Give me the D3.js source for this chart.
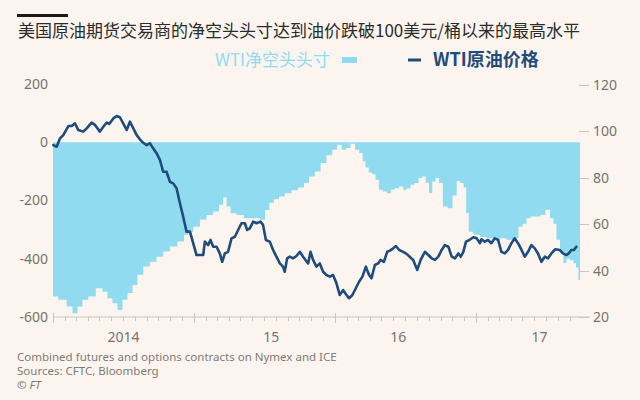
<!DOCTYPE html>
<html><head><meta charset="utf-8">
<script src="https://cdn.jsdelivr.net/npm/d3@7"></script>
<style>html,body{margin:0;padding:0;background:#fcf5ef;} svg{display:block}</style>
</head><body><svg id="c" width="640" height="400"></svg>
<script>
// ---------- data ----------
const titleText = "美国原油期货交易商的净空头头寸达到油价跌破100美元/桶以来的最高水平";
const legendLabels = ["WTI净空头头寸", "WTI原油价格"];
const leftTicks = [200, 0, -200, -400, -600];
const rightTicks = [20, 40, 60, 80, 100, 120];
const yearLabels = ["2014", "15", "16", "17"];
const yearLabelDates = [2014.50, 2015.55, 2016.45, 2017.45];
const footnotes = ["Combined futures and options contracts on Nymex and ICE", "Sources: CFTC, Bloomberg", "© FT"];

// WTI price ($/barrel), dates as decimal years
const priceYears = [2014.002,2014.026,2014.050,2014.073,2014.109,2014.133,2014.156,2014.179,2014.215,2014.239,2014.274,2014.298,2014.333,2014.357,2014.381,2014.399,2014.428,2014.452,2014.475,2014.504,2014.523,2014.546,2014.570,2014.594,2014.617,2014.640,2014.665,2014.688,2014.711,2014.735,2014.759,2014.782,2014.806,2014.830,2014.853,2014.877,2014.901,2014.924,2014.948,2014.972,2014.995,
2015.019,2015.043,2015.066,2015.078,2015.101,2015.118,2015.137,2015.161,2015.184,2015.201,2015.220,2015.243,2015.267,2015.291,2015.314,2015.338,2015.362,2015.378,2015.397,2015.421,2015.445,2015.473,2015.491,2015.511,2015.539,2015.562,2015.586,2015.610,2015.633,2015.645,2015.662,2015.681,2015.704,2015.728,2015.752,2015.775,2015.811,2015.828,2015.846,2015.870,2015.894,2015.917,2015.941,2015.965,2015.988,
2016.012,2016.035,2016.059,2016.083,2016.101,2016.125,2016.149,2016.172,2016.196,2016.220,2016.243,2016.260,2016.284,2016.307,2016.324,2016.348,2016.371,2016.390,2016.414,2016.433,2016.456,2016.484,2016.508,2016.532,2016.555,2016.584,2016.608,2016.638,2016.662,2016.686,2016.709,2016.733,2016.757,2016.780,2016.804,2016.828,2016.851,2016.875,2016.892,2016.910,2016.929,2016.953,2016.981,
2017.005,2017.028,2017.038,2017.062,2017.085,2017.109,2017.133,2017.157,2017.180,2017.204,2017.227,2017.251,2017.275,2017.298,2017.322,2017.346,2017.369,2017.393,2017.417,2017.440,2017.464,2017.488,2017.511,2017.535,2017.563,2017.594,2017.617,2017.641,2017.658,2017.676,2017.695,2017.712];
const priceValues = [94.1,93.4,97,98.4,102.3,102.3,103.5,100.6,99.9,101.3,103.8,102.8,99.9,102,103.8,103.2,105.6,106.6,106.1,102.8,100.6,104.2,101.3,98.4,96.6,95.1,94.1,94.9,92.7,90.6,87.7,82.6,82.6,78.3,77.6,75.5,69,63.2,56.8,56.8,51.8,
46.7,46.7,46.7,52.5,51,53.2,50.3,50.3,47.4,43.8,47.4,48.1,53.9,54.6,57.5,60.4,60.4,57.5,58.2,61.1,60.4,61.1,59.7,53.2,52.5,48.9,46,43.1,41.7,39.5,45.3,46,45.3,46.3,48.1,46,43.1,48.1,44.6,41.7,43.1,39.5,38.1,37.4,38.1,
34.5,29.5,31.6,29.5,28.1,29.5,32.4,35.2,37.4,41.7,38.1,36.7,42.4,43.1,44.6,43.8,48.1,48.6,49.6,50.6,48.9,48.1,47.2,45.9,44.6,40.3,44.6,48.1,46.7,45.3,44.6,46,48.9,51,50.3,46,45.3,47.4,46,48.1,52.5,53.2,54.4,
53.9,51.8,53.5,52.5,53.2,51.8,53.9,53.2,48.1,47.4,48.9,51.8,53.9,51.8,49,46,48.1,51,49.6,47.4,43.8,46,45.3,47.4,49.2,48.9,47.4,46.7,47.4,48.9,48.9,50.3];

// WTI net short position (thousand contracts), dates as decimal years
const shortYears = [2014.000,2014.073,2014.121,2014.156,2014.191,2014.227,2014.274,2014.333,2014.369,2014.404,2014.440,2014.475,2014.511,2014.546,2014.582,2014.617,2014.665,2014.711,2014.759,2014.806,2014.853,2014.913,2014.948,2014.972,
2015.019,2015.066,2015.113,2015.161,2015.196,2015.220,2015.243,2015.279,2015.326,2015.385,2015.445,2015.491,2015.520,2015.551,2015.586,2015.622,2015.669,2015.716,2015.764,2015.799,2015.835,2015.882,2015.917,2015.965,
2016.000,2016.035,2016.064,2016.094,2016.130,2016.158,2016.189,2016.206,2016.229,2016.253,2016.277,2016.300,2016.324,2016.355,2016.385,2016.409,2016.438,2016.473,2016.496,2016.525,2016.548,2016.579,2016.608,2016.631,2016.655,2016.679,2016.702,2016.726,2016.750,2016.780,2016.816,2016.851,2016.875,2016.903,2016.922,2016.939,2016.957,
2017.005,2017.050,2017.099,2017.149,2017.191,2017.241,2017.291,2017.312,2017.348,2017.369,2017.404,2017.440,2017.475,2017.511,2017.539,2017.560,2017.582,2017.610,2017.631,2017.652,2017.681,2017.702,2017.716,2017.738];
const shortValues = [-530,-541,-564,-587,-564,-541,-530,-501,-513,-536,-553,-576,-541,-518,-490,-455,-427,-410,-393,-375,-358,-341,-318,-307,
-290,-265,-250,-238,-215,-190,-221,-244,-250,-261,-261,-266,-233,-208,-196,-186,-175,-165,-155,-140,-118,-100,-71,-45,
-26,-9,-26,-20,-5,-26,-37,-66,-87,-104,-110,-129,-163,-169,-175,-163,-158,-152,-163,-158,-146,-140,-123,-118,-140,-174,-135,-123,-140,-221,-227,-183,-134,-140,-155,-243,-307,
-318,-325,-330,-335,-330,-335,-330,-290,-280,-261,-255,-255,-250,-232,-261,-280,-335,-381,-415,-400,-405,-415,-430,-473];

(function () {
function dec(t) {
  const y = Math.floor(t), s = new Date(y, 0, 1), e = new Date(y + 1, 0, 1);
  return new Date(+s + (t - y) * (e - s));
}
const price = priceYears.map((t, i) => ({date: dec(t), v: priceValues[i]}));
const shorts = shortYears.map((t, i) => ({date: dec(t), v: shortValues[i]}));

const svg = d3.select("#c");
const W = 640, H = 400;
const pL = 53, pR = 580, pT = 84, pB = 317;

const x = d3.scaleTime().domain([dec(2014), dec(2017.738)]).range([pL, pR]);
const yL = d3.scaleLinear().domain([-600, 200]).range([pB, pT]);
const yR = d3.scaleLinear().domain([20, 120]).range([pB, pT + 1]);

const cjk = "'Noto Sans CJK SC', 'Noto Sans', sans-serif";
const sans = "'Noto Sans', 'Open Sans', sans-serif";
const areaColor = "#90dbef";
const lineColor = "#1f4c7c";
const axisGrey = "#c9c4c0";
const labelGrey = "#77726e";

svg.append("rect").attr("width", W).attr("height", H).attr("fill", "#fcf5ef");

// header
svg.append("rect").attr("x", 17).attr("y", 14).attr("width", 51).attr("height", 3).attr("fill", "#1a1a1a");
svg.append("text").attr("x", 18).attr("y", 36.5).attr("font-family", cjk).attr("font-size", 17)
  .attr("fill", "#2b2b2b").text(titleText);

// legend
svg.append("text").attr("x", 215).attr("y", 60).attr("dy", "0.35em").attr("font-family", cjk)
  .attr("font-size", 17).attr("fill", areaColor).text(legendLabels[0]);
svg.append("rect").attr("x", 342).attr("y", 57).attr("width", 15).attr("height", 6).attr("fill", areaColor);
svg.append("line").attr("x1", 408).attr("x2", 421).attr("y1", 60).attr("y2", 60)
  .attr("stroke", lineColor).attr("stroke-width", 3);
svg.append("text").attr("x", 433).attr("y", 60).attr("dy", "0.35em").attr("font-family", cjk)
  .attr("font-size", 18).attr("font-weight", "bold").attr("fill", lineColor).text(legendLabels[1]);

// net short area
const area = d3.area().x(d => x(d.date)).y0(yL(0)).y1(d => yL(d.v)).curve(d3.curveStep);
svg.append("path").datum(shorts).attr("d", area).attr("fill", areaColor);

// x axis
svg.append("line").attr("x1", pL).attr("x2", pR + 10).attr("y1", pB).attr("y2", pB)
  .attr("stroke", axisGrey).attr("stroke-width", 1);
const months = d3.timeMonth.range(dec(2014), x.domain()[1]);
svg.append("g").selectAll("line").data(months).join("line")
  .attr("x1", d => Math.round(x(d)) + 0.5).attr("x2", d => Math.round(x(d)) + 0.5)
  .attr("y1", d => d.getMonth() === 0 ? pB - 4 : pB)
  .attr("y2", d => d.getMonth() === 0 ? pB + 6 : pB + 4)
  .attr("stroke", axisGrey).attr("stroke-width", 1);
svg.append("g").selectAll("text").data(yearLabels).join("text")
  .attr("x", (d, i) => x(dec(yearLabelDates[i]))).attr("y", 337).attr("dy", "0.35em")
  .attr("text-anchor", "middle").attr("font-family", sans).attr("font-size", 14)
  .attr("fill", labelGrey).text(d => d);

// left axis labels
svg.append("g").selectAll("text").data(leftTicks).join("text")
  .attr("x", 48).attr("y", d => yL(d)).attr("dy", "0.35em").attr("text-anchor", "end")
  .attr("font-family", sans).attr("font-size", 14).attr("fill", labelGrey).text(d => d);

// right axis
svg.append("g").selectAll("line").data(rightTicks).join("line")
  .attr("x1", pR - 1).attr("x2", pR + 9).attr("y1", d => Math.round(yR(d)) + 0.5).attr("y2", d => Math.round(yR(d)) + 0.5)
  .attr("stroke", axisGrey).attr("stroke-width", 1);
svg.append("g").selectAll("text").data(rightTicks).join("text")
  .attr("x", 593).attr("y", d => yR(d)).attr("dy", "0.35em").attr("text-anchor", "start")
  .attr("font-family", sans).attr("font-size", 14).attr("fill", labelGrey).text(d => d);

// price line
const line = d3.line().x(d => x(d.date)).y(d => yR(d.v)).curve(d3.curveLinear);
svg.append("path").datum(price).attr("d", line).attr("fill", "none")
  .attr("stroke", lineColor).attr("stroke-width", 2.6).attr("stroke-linejoin", "round").attr("stroke-linecap", "round");

// footer
svg.append("g").selectAll("text").data(footnotes).join("text")
  .attr("x", 17).attr("y", (d, i) => 361 + i * 14).attr("font-family", sans).attr("font-size", 11.5)
  .attr("font-style", (d, i) => i === 2 ? "italic" : "normal")
  .attr("fill", "#807a75").text(d => d);
})();
</script></body></html>
